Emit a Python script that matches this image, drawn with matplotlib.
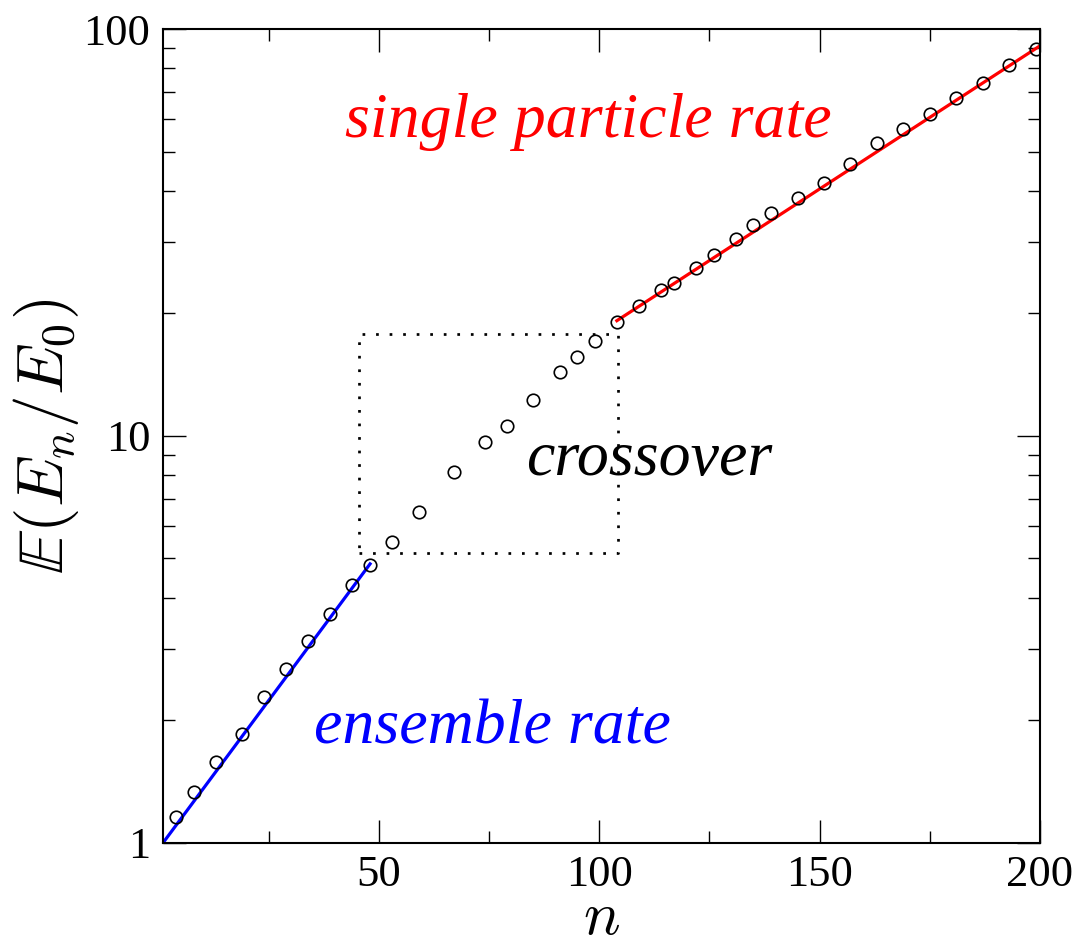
import matplotlib
matplotlib.use("Agg")
import matplotlib.pyplot as plt
from matplotlib.ticker import FixedLocator, LogLocator, NullFormatter, FixedFormatter

plt.rcParams["mathtext.fontset"] = "cm"
plt.rcParams["font.family"] = ["Liberation Serif", "DejaVu Serif"]

# simulated mean energy gain after n steps
n_points = [4, 8, 13, 19, 24, 29, 34, 39, 44, 48,
            53, 59, 67, 74, 79, 85, 91, 95, 99,
            104, 109, 114, 117, 122, 126, 131, 135, 139, 145,
            151, 157, 163, 169, 175, 181, 187, 193, 199]
E_points = [1.16, 1.335, 1.585, 1.85, 2.29, 2.68, 3.13, 3.65, 4.30, 4.82,
            5.50, 6.49, 8.17, 9.68, 10.56, 12.24, 14.36, 15.66, 17.12,
            19.1, 20.9, 22.9, 23.8, 25.8, 27.8, 30.4, 33.0, 35.4, 38.4,
            41.9, 46.6, 52.4, 56.9, 61.8, 67.8, 73.6, 81.6, 89.2]

# exponential fits (straight on log axis)
ensemble_n = [1, 48]
ensemble_E = [1.0, 4.85]
single_n = [104, 200]
single_E = [19.2, 90.9]

# crossover window
box_n = [45.4, 104.3]
box_E = [5.16, 17.8]

xticks = [50, 100, 150, 200]
yticks = [1, 10, 100]
ytick_labels = ["1", "10", "100"]

fig = plt.figure(figsize=(10.82, 9.48), dpi=100)
ax = fig.add_axes([0.1506, 0.1108, 0.8105, 0.8586])

ax.plot(ensemble_n, ensemble_E, color="#0000ff", lw=2.3, zorder=2)
ax.plot(single_n, single_E, color="#ff0000", lw=2.3, zorder=2)
ax.plot(n_points, E_points, "o", mfc="none", mec="black", ms=9, mew=1.2, zorder=3)

bx = [box_n[0], box_n[1], box_n[1], box_n[0], box_n[0]]
by = [box_E[0], box_E[0], box_E[1], box_E[1], box_E[0]]
ax.plot(bx, by, color="black", lw=1.95, linestyle=(0, (1, 4)), zorder=1)

ax.set_yscale("log")
ax.set_xlim(1, 200)
ax.set_ylim(1, 100)

ax.xaxis.set_major_locator(FixedLocator(xticks))
ax.xaxis.set_minor_locator(FixedLocator([25, 75, 125, 175]))
ax.yaxis.set_major_locator(FixedLocator(yticks))
ax.yaxis.set_major_formatter(FixedFormatter(ytick_labels))
ax.yaxis.set_minor_locator(LogLocator(base=10, subs=range(2, 10)))
ax.yaxis.set_minor_formatter(NullFormatter())

ax.tick_params(which="both", direction="in", top=True, right=True, width=1.0,
               labelsize=32, pad=9)
ax.tick_params(which="major", length=16.5)
ax.tick_params(which="minor", length=8.5)
for s in ax.spines.values():
    s.set_linewidth(1.5)

ax.set_xlabel(r"$n$", fontsize=44, labelpad=-3)
ax.set_ylabel(r"$\mathbb{E}(E_n/E_0)$", fontsize=47, labelpad=2)

ax.text(97.5, 54.3, "single particle rate", color="#ff0000", fontsize=46,
        style="italic", ha="center", va="baseline")
ax.text(111.4, 8.01, "crossover", color="black", fontsize=46,
        style="italic", ha="center", va="baseline")
ax.text(75.75, 1.758, "ensemble rate", color="#0000ff", fontsize=46,
        style="italic", ha="center", va="baseline")

fig.savefig("out.png", dpi=100)
